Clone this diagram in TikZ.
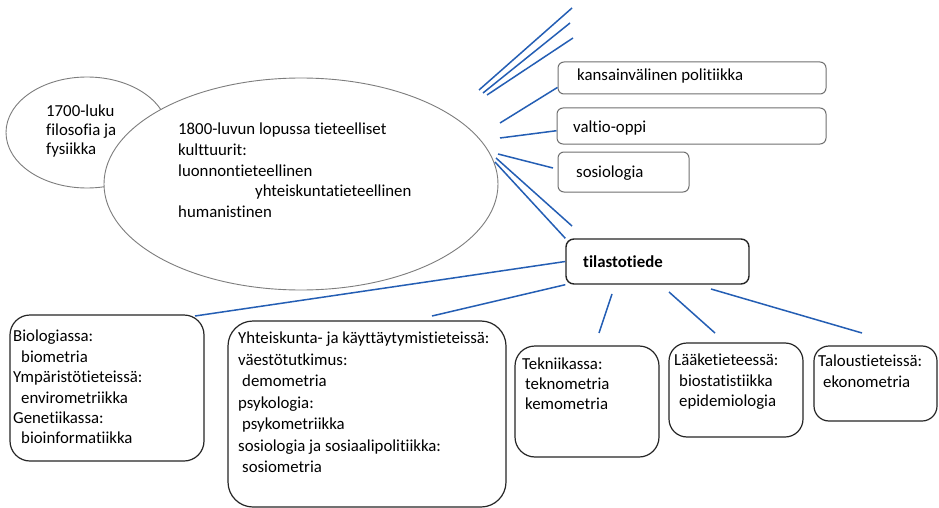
\documentclass[tikz,border=0pt]{standalone}
\usepackage{fontspec}
\setmainfont{Carlito}[RawFeature={-liga}]
\usetikzlibrary{shapes.geometric}
\definecolor{lineblue}{RGB}{36,94,180}
\definecolor{ellgray}{RGB}{125,125,125}
\definecolor{boxgray}{RGB}{112,112,112}
\definecolor{boxdark}{RGB}{38,38,38}
\begin{document}
\begin{tikzpicture}[x=1pt,y=-1pt,
  link/.style={draw=lineblue,line width=1.5pt},
  bubble/.style={ellipse,draw=ellgray,line width=0.9pt,inner sep=0pt},
  topbox/.style={draw=boxgray,line width=1pt,rounded corners=6pt,inner sep=0pt},
  mainbox/.style={draw=boxdark,line width=1.4pt,rounded corners=8pt,inner sep=0pt},
  fieldbox/.style={draw=boxdark,line width=1.2pt,inner sep=0pt},
  txt/.style={inner sep=0pt,align=left,font=\fontsize{16.8}{#1}\selectfont},
  txt/.default=20.5,
  label/.style={inner sep=0pt,anchor=west,font=\fontsize{16.8}{20}\selectfont},
]
\useasboundingbox[fill=white] (0,0) rectangle (939,508);

% ellipses: the earlier era lies behind the later one
\node[bubble,minimum width=162pt,minimum height=111pt] (era1700) at (87,132.5) {};
\node[bubble,fill=white,minimum width=394pt,minimum height=212pt] (era1800) at (301,184) {};
\node[txt=19,anchor=north west] (era1700-t) at (46,105) {1700-luku\\filosofia ja\\fysiikka};
\node[txt=20.7,anchor=north west] (era1800-t) at (178,123)
  {1800-luvun lopussa tieteelliset\\kulttuurit:\\luonnontieteellinen\\\hspace*{77pt}yhteiskuntatieteellinen\\humanistinen};

% social science disciplines
\node[topbox,minimum width=268pt,minimum height=32pt] (kans) at (692,78) {};
\node[label] (kans-t) at (577,76) {kansainvälinen politiikka};
\node[topbox,minimum width=269pt,minimum height=36pt] (valtio) at (691.5,126) {};
\node[label] (valtio-t) at (573,128) {valtio-oppi};
\node[topbox,minimum width=131pt,minimum height=40pt] (sosio) at (623.5,172) {};
\node[label] (sosio-t) at (576,173) {sosiologia};

% statistics
\node[mainbox,minimum width=183pt,minimum height=45pt] (tilasto) at (657.5,261.5) {};
\node[label,font=\fontsize{16.8}{20}\selectfont\bfseries] (tilasto-t) at (583,262) {tilastotiede};

% fields of application
\node[fieldbox,rounded corners=20pt,minimum width=194pt,minimum height=146pt] (bio) at (107,388) {};
\node[txt=20.4,anchor=north west] (bio-t) at (13,330)
  {Biologiassa:\\\hspace*{8pt}biometria\\Ympäristötieteissä:\\\hspace*{8pt}envirometriikka\\Genetiikassa:\\\hspace*{8pt}bioinformatiikka};
\node[fieldbox,rounded corners=25pt,minimum width=278pt,minimum height=186pt] (yht) at (367,414) {};
\node[txt=21.5,anchor=north west] (yht-t) at (238,332)
  {Yhteiskunta- ja käyttäytymistieteissä:\\väestötutkimus:\\\hspace*{4pt}demometria\\psykologia:\\\hspace*{4pt}psykometriikka\\sosiologia ja sosiaalipolitiikka:\\\hspace*{4pt}sosiometria};
\node[fieldbox,rounded corners=20pt,minimum width=144pt,minimum height=111pt] (tek) at (587,401.5) {};
\node[txt=20,anchor=north west] (tek-t) at (522,358)
  {Tekniikassa:\\\hspace*{3pt}teknometria\\\hspace*{3pt}kemometria};
\node[fieldbox,rounded corners=18pt,minimum width=134pt,minimum height=94pt] (laake) at (736,390) {};
\node[txt=20.5,anchor=north west] (laake-t) at (674,354)
  {Lääketieteessä:\\\hspace*{5pt}biostatistiikka\\\hspace*{5pt}epidemiologia};
\node[fieldbox,rounded corners=15pt,minimum width=123pt,minimum height=75pt] (talous) at (875.5,383.5) {};
\node[txt=21,anchor=north west] (talous-t) at (818,355)
  {Taloustieteissä:\\\hspace*{5pt}ekonometria};

% free line ends
\coordinate (u1a) at (479,90);  \coordinate (u1b) at (572,8);
\coordinate (u2a) at (483,93);  \coordinate (u2b) at (570,23);
\coordinate (u3a) at (487,95);  \coordinate (u3b) at (573,38);
\coordinate (k1) at (500,123);
\coordinate (v1) at (500,138);
\coordinate (s1) at (498,154);  \coordinate (s2) at (553,168);
\coordinate (t1) at (496,158);  \coordinate (t2) at (572,226);
\coordinate (t3) at (495,162);
\coordinate (b1) at (195,316);
\coordinate (y1) at (432,316);
\coordinate (e1) at (612,294);  \coordinate (e2) at (599,333);
\coordinate (l1) at (669,292);  \coordinate (l2) at (715,333);
\coordinate (o1) at (711,289);  \coordinate (o2) at (862,333);

% connectors
\draw[link] (u1a) -- (u1b);
\draw[link] (u2a) -- (u2b);
\draw[link] (u3a) -- (u3b);
\draw[link] (k1) -- (kans.184);
\draw[link] (v1) -- (valtio.182);
\draw[link] (s1) -- (s2);
\draw[link] (t1) -- (t2);
\draw[link] (t3) -- (tilasto.north west);
\draw[link] (tilasto.west) -- (b1);
\draw[link] (tilasto.south west) -- (y1);
\draw[link] (e1) -- (e2);
\draw[link] (l1) -- (l2);
\draw[link] (o1) -- (o2);
\end{tikzpicture}
\end{document}
